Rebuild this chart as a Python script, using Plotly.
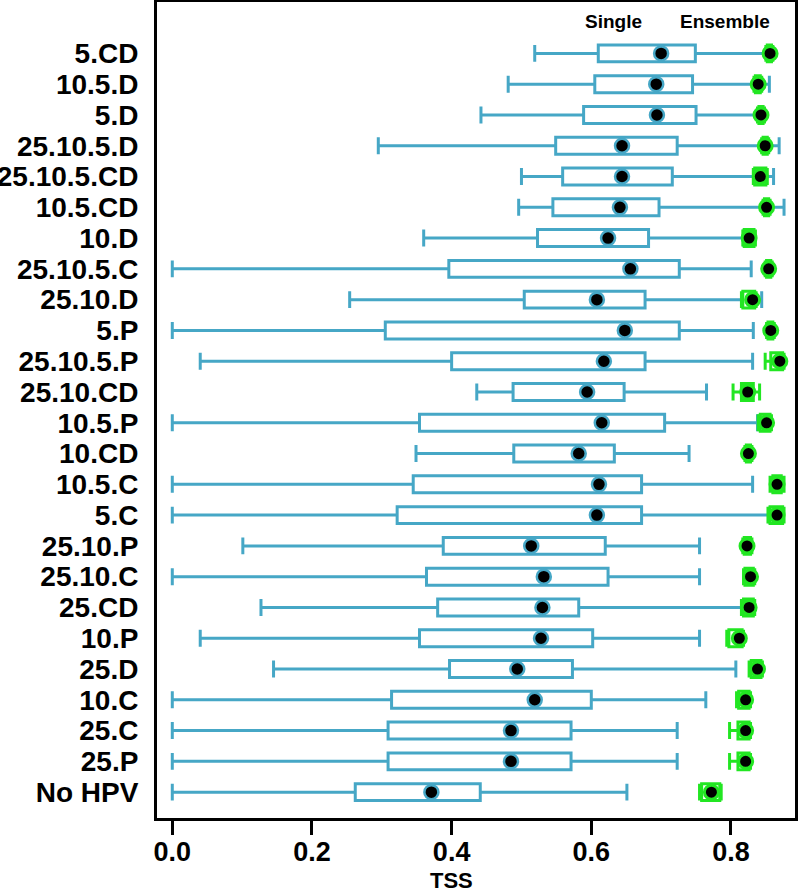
import plotly.graph_objects as go

categories = ["5.CD", "10.5.D", "5.D", "25.10.5.D", "25.10.5.CD", "10.5.CD", "10.D",
              "25.10.5.C", "25.10.D", "5.P", "25.10.5.P", "25.10.CD", "10.5.P", "10.CD",
              "10.5.C", "5.C", "25.10.P", "25.10.C", "25.CD", "10.P", "25.D", "10.C",
              "25.C", "25.P", "No HPV"]

# Single models
single_lo = [0.519, 0.481, 0.442, 0.295, 0.500, 0.496, 0.360, 0.000, 0.254, 0.000, 0.040, 0.436, 0.000,
             0.349, 0.000, 0.000, 0.101, 0.000, 0.127, 0.040, 0.145, 0.000, 0.000, 0.000, 0.000]
single_q1 = [0.610, 0.605, 0.589, 0.549, 0.559, 0.545, 0.523, 0.396, 0.504, 0.305, 0.400, 0.488, 0.354,
             0.489, 0.345, 0.322, 0.388, 0.364, 0.380, 0.354, 0.397, 0.314, 0.309, 0.309, 0.262]
single_med = [0.700, 0.693, 0.694, 0.644, 0.644, 0.641, 0.624, 0.656, 0.608, 0.648, 0.618, 0.594, 0.615,
              0.582, 0.611, 0.608, 0.514, 0.532, 0.530, 0.528, 0.494, 0.519, 0.485, 0.485, 0.371]
single_q3 = [0.749, 0.745, 0.750, 0.723, 0.716, 0.697, 0.682, 0.726, 0.677, 0.726, 0.677, 0.647, 0.705,
             0.633, 0.672, 0.672, 0.620, 0.624, 0.582, 0.602, 0.573, 0.600, 0.571, 0.571, 0.441]
single_hi = [0.853, 0.855, 0.842, 0.869, 0.861, 0.876, 0.818, 0.829, 0.844, 0.832, 0.831, 0.765, 0.838,
             0.740, 0.831, 0.855, 0.755, 0.755, 0.820, 0.755, 0.807, 0.764, 0.723, 0.723, 0.651]

# Ensemble models
ens_lo = [0.850, 0.833, 0.838, 0.844, 0.832, 0.846, 0.817, 0.849, 0.815, 0.851, 0.849, 0.803, 0.839,
          0.820, 0.856, 0.853, 0.817, 0.818, 0.815, 0.794, 0.826, 0.808, 0.798, 0.798, 0.755]
ens_q1 = [0.852, 0.835, 0.840, 0.846, 0.834, 0.848, 0.819, 0.851, 0.817, 0.853, 0.857, 0.815, 0.842,
          0.822, 0.860, 0.856, 0.819, 0.820, 0.818, 0.797, 0.829, 0.811, 0.810, 0.810, 0.758]
ens_med = [0.856, 0.839, 0.843, 0.849, 0.842, 0.851, 0.826, 0.854, 0.831, 0.857, 0.870, 0.824, 0.851,
           0.825, 0.866, 0.866, 0.823, 0.828, 0.826, 0.812, 0.838, 0.821, 0.821, 0.821, 0.772]
ens_q3 = [0.858, 0.842, 0.846, 0.852, 0.850, 0.854, 0.833, 0.857, 0.834, 0.860, 0.874, 0.832, 0.856,
          0.828, 0.872, 0.874, 0.828, 0.832, 0.832, 0.816, 0.843, 0.826, 0.826, 0.826, 0.784]
ens_hi = [0.860, 0.844, 0.848, 0.854, 0.852, 0.856, 0.835, 0.859, 0.836, 0.862, 0.876, 0.841, 0.858,
          0.830, 0.876, 0.876, 0.830, 0.834, 0.834, 0.818, 0.845, 0.828, 0.828, 0.828, 0.786]

x_ticks = [0.0, 0.2, 0.4, 0.6, 0.8]
x_ticktext = ["0.0", "0.2", "0.4", "0.6", "0.8"]

BLUE = "#46A7C6"
GREEN = "#22E622"

fig = go.Figure()

fig.add_trace(go.Box(
    y=categories, q1=single_q1, median=single_med, q3=single_q3,
    lowerfence=single_lo, upperfence=single_hi,
    orientation="h", width=0.55, whiskerwidth=1,
    line=dict(color=BLUE, width=3), fillcolor="white",
    boxpoints=False, showlegend=False, hoverinfo="skip"))

fig.add_trace(go.Box(
    y=categories, q1=ens_q1, median=ens_med, q3=ens_q3,
    lowerfence=ens_lo, upperfence=ens_hi,
    orientation="h", width=0.55, whiskerwidth=1,
    line=dict(color=GREEN, width=3), fillcolor="white",
    boxpoints=False, showlegend=False, hoverinfo="skip"))

fig.add_trace(go.Scatter(
    x=single_med, y=categories, mode="markers", cliponaxis=False,
    marker=dict(color="black", size=14, line=dict(color=BLUE, width=2.5)),
    showlegend=False, hoverinfo="skip"))

fig.add_trace(go.Scatter(
    x=ens_med, y=categories, mode="markers", cliponaxis=False,
    marker=dict(color="black", size=14, line=dict(color=GREEN, width=3)),
    showlegend=False, hoverinfo="skip"))

narrow = "Liberation Sans Narrow, Arial Narrow, Liberation Sans, Arial, sans-serif"

fig.add_annotation(x=0.632, y=0.9755, xref="x", yref="paper", text="Single",
                   xanchor="center", yanchor="middle", showarrow=False,
                   font=dict(family=narrow, size=19, color="black", weight="bold"))
fig.add_annotation(x=0.792, y=0.9755, xref="x", yref="paper", text="Ensemble",
                   xanchor="center", yanchor="middle", showarrow=False,
                   font=dict(family=narrow, size=19, color="black", weight="bold"))
fig.add_annotation(x=0.4, y=-0.0772, xref="x", yref="paper", text="TSS",
                   xanchor="center", yanchor="middle", showarrow=False,
                   font=dict(family=narrow, size=22, color="black", weight="bold"))

n = len(categories)
fig.update_layout(
    width=798, height=894,
    margin=dict(l=157, r=3, t=2, b=76, autoexpand=False),
    paper_bgcolor="white", plot_bgcolor="white",
    boxmode="overlay",
    xaxis=dict(range=[-0.0219, 0.8917], tickmode="array", tickvals=x_ticks, ticktext=x_ticktext,
               ticks="outside", ticklen=14, tickwidth=3, tickcolor="black",
               showline=True, linewidth=3, linecolor="black", mirror=True,
               showgrid=False, zeroline=False, automargin=False, ticklabelstandoff=-6,
               tickfont=dict(family=narrow, size=27, color="black", weight="bold")),
    yaxis=dict(categoryorder="array", categoryarray=categories[::-1],
               tickmode="array", tickvals=categories, ticktext=categories,
               range=[-0.84, n - 1 + 1.67],
               showline=True, linewidth=3, linecolor="black", mirror=True,
               showgrid=False, zeroline=False, ticks="", automargin=False,
               ticklabelstandoff=10,
               tickfont=dict(family="Liberation Sans, Arial, sans-serif", size=28,
                             color="black", weight="bold")),
)

fig.write_html("out.html", config={"displayModeBar": False},
               post_script="document.body.style.margin='0';document.body.style.overflow='hidden';")
